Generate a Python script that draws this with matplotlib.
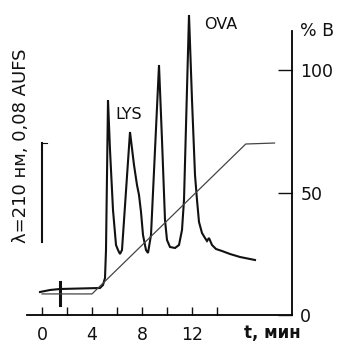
import matplotlib
matplotlib.use("Agg")
import matplotlib.pyplot as plt

plt.rcParams['font.family'] = 'DejaVu Sans'

# detector trace: time (min) and signal (relative units)
trace_t = [-0.16, 0.64, 1.44, 4.64, 4.88, 5.04, 5.12, 5.28, 5.44, 5.68, 5.92, 6.08,
           6.24, 6.4, 7.04, 7.36, 7.60, 7.76, 7.92, 8.08, 8.32, 8.48, 8.72, 9.04,
           9.36, 9.60, 9.84, 10.0, 10.24, 10.64, 10.96, 11.2, 11.36, 11.76, 12.0,
           12.24, 12.40, 12.56, 12.80, 13.04, 13.2, 13.36, 13.6, 13.92, 14.4, 15.04,
           15.84, 17.04]
trace_s = [-0.02, 0.0, 0.01, 0.02, 0.05, 0.12, 0.40, 1.90, 1.40, 0.80, 0.45, 0.40,
           0.36, 0.40, 1.58, 1.25, 1.05, 0.95, 0.78, 0.55, 0.40, 0.37, 0.55, 1.40,
           2.25, 1.50, 0.70, 0.50, 0.43, 0.42, 0.45, 0.60, 0.90, 2.75, 1.90,
           1.15, 0.90, 0.68, 0.57, 0.52, 0.49, 0.52, 0.45, 0.41, 0.39, 0.36,
           0.33, 0.30]

# gradient program, %B
grad_t = [0.0, 4.0, 16.3, 18.6]
grad_b = [8.6, 8.6, 69.8, 70.2]

peak_names = ['LYS', 'OVA']
peak_label_t = [6.9, 14.3]
peak_label_s = [1.75, 2.65]

inject_t = 1.44
scale_bar = [0.48, 1.47]   # signal span of the 0.08 AUFS bar

x_ticks = [0, 2, 4, 6, 8, 10, 12, 14]
x_labels = ['0', '', '4', '', '8', '', '12', '']
b_ticks = [0, 50, 100]

ink = '#111111'

fig = plt.figure(figsize=(3.42, 3.44), dpi=100)
ax = fig.add_axes([27/342, 29/344, 265/342, 305/344])
ax.set_xlim(-1.2, 20.0)
ax.set_ylim(-0.25, 2.80)

ax.plot(trace_t, trace_s, color=ink, lw=1.5, solid_joinstyle='miter')
ax.plot([inject_t, inject_t], [-0.15, 0.08], color=ink, lw=2.2)

# scale bar
ax.plot([0, 0], scale_bar, color=ink, lw=1.5, clip_on=False)
ax.plot([0, 0.4], [scale_bar[1], scale_bar[1]], color=ink, lw=0.8, clip_on=False)

for name, t, s in zip(peak_names, peak_label_t, peak_label_s):
    ax.text(t, s, name, fontsize=11.5, ha='center', va='center', color=ink)

for side in ['top', 'left', 'right']:
    ax.spines[side].set_visible(False)
ax.spines['bottom'].set_linewidth(1.3)
ax.set_yticks([])
ax.set_xticks(x_ticks)
ax.set_xticklabels(x_labels)
ax.tick_params(axis='x', direction='in', length=6, width=1.0, pad=8,
               labelsize=12.5, colors=ink)
ax.text(18.45, -0.43, 't, мин', fontsize=12, fontweight='bold', ha='center',
        va='center', color=ink, clip_on=False)

ax.text(-1.68, 1.44, 'λ=210 нм, 0,08 AUFS', rotation=90, fontsize=13,
        ha='center', va='center', color=ink, clip_on=False)

# %B axis
axb = ax.twinx()
axb.set_ylim(0, 124.5)
axb.plot(grad_t, grad_b, color='#444444', lw=0.9)
for side in ['top', 'left', 'bottom']:
    axb.spines[side].set_visible(False)
axb.spines['right'].set_bounds(0, 116)
axb.spines['right'].set_linewidth(1.3)
axb.set_yticks(b_ticks)
axb.tick_params(axis='y', direction='in', length=10, width=1.0, pad=6,
                labelsize=12.5, colors=ink)
axb.text(1.03, 116, '% B', transform=axb.get_yaxis_transform(), fontsize=12.5,
         ha='left', va='center', color=ink)

fig.savefig('out.png', dpi=100)
